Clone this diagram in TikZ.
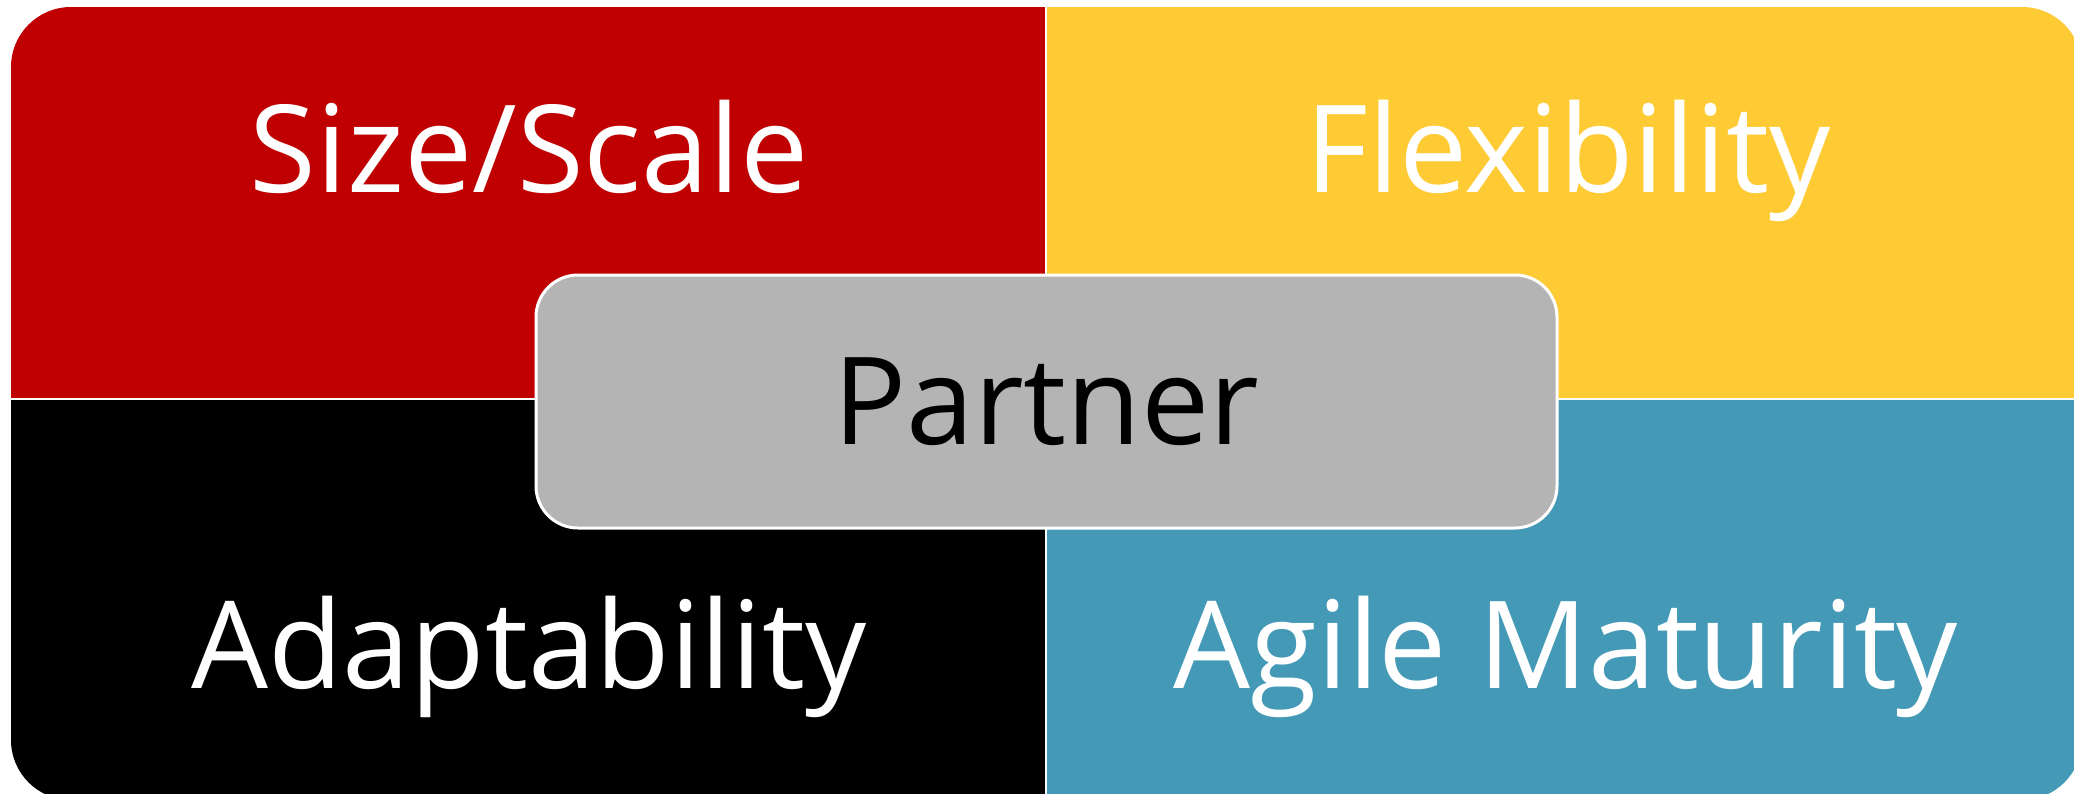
\documentclass[tikz,border=0pt]{standalone}
\usepackage{fontspec}
\setmainfont{Open Sans}
\definecolor{sizered}{HTML}{C00000}
\definecolor{flexyellow}{HTML}{FFCB35}
\definecolor{agileblue}{HTML}{4499B6}
\definecolor{partnergrey}{HTML}{B4B4B4}
\begin{document}
\begin{tikzpicture}[
    quadtext/.style={anchor=base, inner sep=0pt, text=white,
      font=\fontsize{34.6}{40}\selectfont},
    partnerbox/.style={draw=white, line width=0.3mm, fill=partnergrey,
      rounded corners=4.2mm, minimum width=10.21cm, minimum height=2.53cm,
      font=\fontsize{34.6}{40}\selectfont}
  ]
  \useasboundingbox (0,0) rectangle (20.74,7.93);
  % Draw quadrants
  \begin{scope}
    \clip[rounded corners=6mm] (0.11,-0.07) rectangle (20.82,7.86);
    \fill[sizered]    (0.11,3.94)  rectangle (10.46,7.86);
    \fill[flexyellow] (10.46,3.94) rectangle (20.82,7.86);
    \fill[black]      (0.11,-0.07) rectangle (10.46,3.94);
    \fill[agileblue]  (10.46,-0.07) rectangle (20.82,3.94);
  \end{scope}
  % Draw dividers
  \draw[white, line width=0.2mm] (10.46,-0.1) -- (10.46,7.86);
  \draw[white, line width=0.2mm] (0.11,3.94) -- (20.82,3.94);

  \node (size)  [quadtext] at (5.29,6.00)  {Size/Scale};
  \node (flex)  [quadtext] at (15.68,6.00) {Flexibility};
  \node (adapt) [quadtext] at (5.29,1.05)  {Adaptability};
  \node (agile) [quadtext] at (15.66,1.05) {Agile Maturity};

  % Draw centre box
  \node (partner) [partnerbox] at (10.465,3.915) {Partner};
\end{tikzpicture}
\end{document}
